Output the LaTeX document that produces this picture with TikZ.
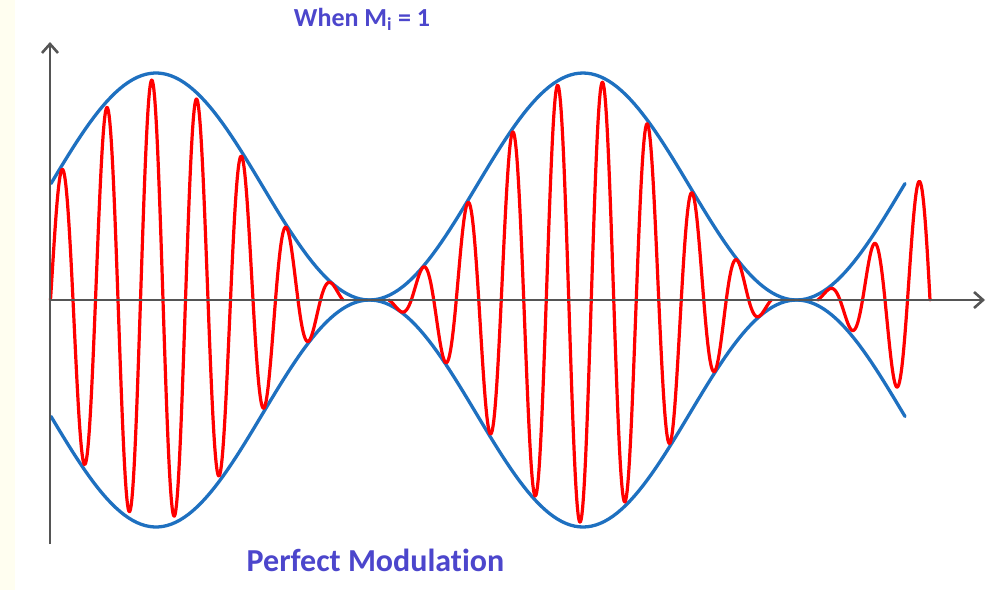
\documentclass[tikz,border=0pt]{standalone}
\usepackage{fontspec}
\setmainfont{Carlito}[Ligatures={NoCommon}]
\usetikzlibrary{arrows.meta}
\definecolor{cream}{RGB}{255,254,240}
\definecolor{axisgray}{RGB}{85,85,85}
\definecolor{envblue}{RGB}{30,112,192}
\definecolor{txtblue}{RGB}{76,70,204}
\begin{document}
\begin{tikzpicture}[x=1pt,y=-1pt,
  axisline/.style={draw=axisgray, line width=2.6pt, -{Straight Barb[length=9pt,width=16pt]}},
  envline/.style={draw=envblue, line width=3.3pt, line cap=round},
  carrierline/.style={draw=red, line width=3.2pt, line join=round, line cap=round},
  titletext/.style={text=txtblue, anchor=base, inner sep=0pt, font=\bfseries\fontsize{26}{30}\selectfont},
  captext/.style={text=txtblue, anchor=base, inner sep=0pt, font=\bfseries\fontsize{32}{36}\selectfont},
  declare function={env(\t)=113.5*(1+cos((\t-156)*0.843091));}
]
\useasboundingbox (0,0) rectangle (990,590);
\fill[white] (0,0) rectangle (990,590);
\fill[cream] (0,0) rectangle (15,590);
% axes
\coordinate (O) at (50,300);
\coordinate (ybot) at (50,544);
\coordinate (ytop) at (50,42);
\coordinate (xend) at (985,300);
% envelope
\draw[envline] plot[domain=51:905, samples=200] (\x,{300-env(\x)});
\draw[envline] plot[domain=51:905, samples=200] (\x,{300+env(\x)});
% carrier
\draw[carrierline] plot[domain=50.5:343, samples=400] (\x,{300-0.97*env(\x)*sin((\x-50.5)*8)});
\draw[carrierline] plot[domain=388.75:771.25, samples=500] (\x,{300-0.98*env(\x)*sin((\x-366.25)*8)});
\draw[carrierline] plot[domain=817.5:930, samples=160] (\x,{300-0.85*env(\x)*sin((\x-817.5)*8)});
% axes on top
\draw[axisline] (ybot) -- (ytop);
\draw[axisline] (O) -- (xend);
% texts
\node[titletext] (title) at (362,26) {When M\textsubscript{i} = 1};
\node[captext] (caption) at (375.5,571) {Perfect Modulation};
\end{tikzpicture}
\end{document}
